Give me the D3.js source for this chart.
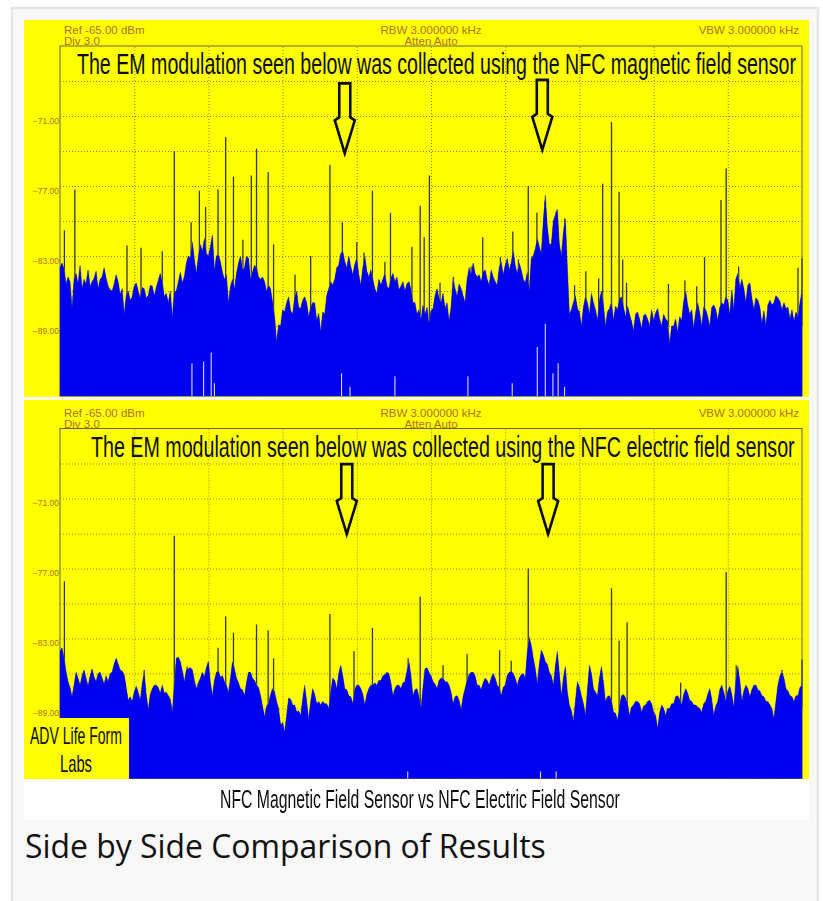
<!DOCTYPE html>
<html><head><meta charset="utf-8">
<style>
html,body{margin:0;padding:0;background:#fff;width:823px;height:901px;overflow:hidden}
svg{display:block}
.chart{filter:blur(0.3px)}
</style>
<script src="https://cdn.jsdelivr.net/npm/d3@7"></script>
</head><body>
<script>
const magneticEnvelope = [-84,-84.1,-84.8,-87.5,-84.5,-83.8,-85,-84.2,-85.2,-84.3,-85,-84,-85.6,-86,-84.6,-86.3,-88,-86,-86.5,-85.3,-86.6,-85.8,-86.4,-85.6,-85.7,-84.5,-86.5,-87,-88.2,-86,-84.4,-84.8,-83,-81.8,-84.5,-82,-81.5,-83,-81.2,-83,-83.5,-85,-87,-85,-84.5,-83,-84,-83.2,-84.4,-84,-85,-85.2,-85.5,-87,-90.3,-89,-87.8,-86.5,-88,-86,-87.5,-86.5,-88.2,-87,-88.5,-89.5,-88,-85.8,-85.5,-84,-82.8,-83.5,-83,-84.6,-83.2,-85.5,-83,-84.8,-85,-86.2,-85.5,-84.5,-85.8,-84.5,-84.8,-85.6,-86,-85.2,-87,-88,
-88.5,-88,-88.8,-87.5,-85.8,-87,-87.5,-88.6,-85,-86.5,-85.8,-87,-84,-83.6,-84.8,-85.2,-84.2,-85.5,-84.8,-85.5,-83.5,-83.8,-84.2,-82.5,-84.5,-84.2,-85.3,-86,-83,-81.5,-82.8,-77.8,-82,-80,-79,-83,-79.8,-88,-87,-87.5,-89,-86.5,-88,-87,-88.5,-86,-89,-87.5,-88.5,-87.6,-86.5,-88.2,-88,-89.4,-87.8,-89.2,-88,-89,-88.5,-87.5,-89,-88.4,-90.5,-89,-89.5,-88.5,-86,-88,-89.2,-87,-89,-87.6,-89,-87.2,-88.5,-87,-86.5,-88,-87.6,-84.5,-85,-87,-85.3,-87.6,-86.8,-88.8,-89,-86.8,-87,-86.6,-87.6,-87.5,-88.4,-88.6,-88.2,-86];
const magneticBetween = [-83.6,-85.4,-85.2,-85,-85.4,-85.8,-85.4,-85.6,-84.9,-85.8,-84.8,-84.9,-85.9,-85.4,-85.2,-85.8,-86.4,-86.8,-85.6,-86,-85.7,-86.6,-85.5,-86.4,-85.1,-85.2,-86.2,-86,-86.1,-85.2,-85.3,-83.6,-83.2,-83.3,-83,-82.6,-82.8,-82.2,-84.2,-82.9,-84.4,-84.6,-85.6,-85.8,-83.6,-84.2,-83,-85,-83.8,-84.8,-84.8,-86,-85.8,-88.2,-88.9,-87.6,-87,-87.7,-86.6,-87.4,-86.8,-87,-87.4,-87,-87.9,-87.8,-86.4,-85.2,-85,-83.8,-82.6,-84,-83.9,-83.7,-84.6,-84,-84.3,-84.2,-85.8,-85,-85,-85.6,-84.9,-85.2,-85.9,-85.2,-85.4,-85.9,-87,-87.6,
-87.2,-87.4,-87.7,-86.4,-86.6,-86.2,-87,-87.4,-85.8,-85.4,-86.4,-85,-84.6,-84.5,-84.6,-84.4,-85,-84.2,-85.2,-84,-84.6,-83.2,-83.6,-83.8,-83.6,-85,-84.4,-83.2,-82.4,-82.2,-80,-80.5,-82,-79.5,-82,-81,-84,-87.6,-86.4,-87.8,-87.4,-87,-86.2,-87.6,-86.8,-87.2,-87.8,-87,-87.3,-86.7,-87.4,-87.3,-88.6,-88,-88.4,-88.1,-88.4,-87.6,-87.9,-88.4,-88,-88.6,-89,-88.4,-88.2,-86.9,-87.2,-87.6,-87.8,-87.9,-87.4,-88.2,-87.4,-87.6,-87.4,-87.2,-86.8,-85.9,-85,-85.7,-85.8,-85.5,-86.6,-86.6,-87.4,-87.7,-87.2,-87.2,-86.4,-86.9,-87,-87.4,-87.6,-87.8,-87];
const magneticSpikes = [[1.1,-80.8],[3.7,-77.3],[16.7,-82.1],[20.2,-82.3],[25.5,-82.6],[28.5,-74],[32.7,-80.1],[34.75,-77.4],[36.3,-78.8],[39.4,-77.3],[41.3,-72.8],[43.25,-76.2],[45.6,-81.6],[47.7,-76.1],[49,-73.8],[51.9,-75.8],[53.25,-82],[58.6,-84.6],[62.5,-83],[67.3,-75.2],[70.4,-80.1],[74,-81.8],[75.8,-82.7],[77.9,-77.4],[81,-83.5],[82.4,-79.3],[87.75,-82.2],[89.8,-78.7],[90.8,-81.4],[92.1,-76.1],[94.75,-85.3],[98.1,-84.8],[102.5,-83.9],[105.4,-81.4],[109.8,-83.1],[112.9,-80.9],[114.3,-83.3],[116.75,-77],[118.9,-79.3],[120.9,-78.3],[123.7,-79.2],[125.8,-79.8],[128.3,-85.5],[131.1,-84.3],[134.3,-84.9],[135.3,-76.8],[137.5,-71.5],[139.4,-77.5],[140.3,-83.3],[141.25,-85.3],[151.7,-85.4],[155.8,-85.1],[158.75,-85.6],[160.7,-83.1],[164.8,-78.2],[166.1,-75.5],[169.2,-83.9],[184,-84],[185,-83.2]];
const magneticNotches = [[32.9,-92.2],[35.8,-92.05],[37.7,-91.3],[38.5,-93.9],[70.2,-93.05],[72.3,-94.2],[83.5,-93.3],[101.7,-93.3],[112.75,-93.9],[119,-90.8],[121,-88.8],[122.9,-93.05],[124.2,-92.2],[125.8,-94.2]];
const electricEnvelope = [-84.1,-84.7,-86.7,-88,-85.9,-87,-85.7,-87.1,-85.6,-86.7,-85.9,-86.9,-86.7,-85.9,-84.7,-85.7,-86.1,-88.3,-88.4,-87.1,-88.3,-85.9,-89.1,-87.3,-87,-87.7,-87.7,-87.9,-89.3,-84.7,-85,-86.7,-85.6,-85.7,-87.3,-86.4,-86.3,-85,-87.9,-85.9,-86.3,-86.7,-87.6,-85,-86.4,-87.3,-87.9,-85.9,-86.4,-87,-87.9,-89.7,-88.6,-87.3,-88.4,-90.4,-91,-88.1,-88.7,-89.3,-89.6,-87,-89.9,-87.3,-88.6,-88.7,-88.6,-89,-86.4,-87.3,-85.3,-87.3,-87.9,-88.6,-87,-87.3,-88.7,-87.3,-87,-87,-86.6,-86.1,-86,-87.9,-87,-87.3,-86.7,-85,-87.9,-87.3,
-89,-85.6,-85.9,-86.7,-87.3,-86.4,-86.7,-87,-88.6,-87.9,-89.1,-87.3,-86.1,-85.9,-87,-87.4,-86.4,-87,-86,-87,-87.9,-87,-85.9,-86,-87,-86.1,-86.4,-82.9,-84.7,-86.9,-84,-85,-85.9,-87,-84.1,-87.9,-85.4,-88.7,-90.1,-86.7,-87.9,-89.6,-85.3,-87.3,-87.9,-85.4,-88.4,-87.9,-89.3,-90,-87.9,-88.1,-89.6,-88.7,-88.4,-89.3,-88.7,-88.3,-89.3,-90.7,-88.7,-89.6,-89,-88.6,-87.9,-88.7,-87.3,-88.3,-88.7,-88.9,-89.3,-88.4,-87.3,-89.6,-88.4,-87,-88.4,-87.1,-88.9,-85.4,-88.4,-87,-88,-87,-87.4,-87.9,-88.4,-88.7,-89.9,-87,-85.9,-87.3,-87.9,-88.4,-87.9,-87];
const electricBetween = [-83.8,-85.8,-87.2,-87,-86.4,-86.2,-86.4,-86.2,-86.3,-86,-86.4,-86.2,-86,-85.2,-85.2,-85.8,-87.2,-88,-87.6,-87.6,-86.9,-87.8,-87.8,-87,-87.2,-87,-87.6,-88.2,-87,-84.6,-85.8,-85.7,-85.5,-86.6,-86.8,-85.9,-85.5,-86.8,-86.6,-85.8,-86.2,-87,-86.4,-85.6,-86.8,-87.4,-86.8,-85.9,-86.6,-87.2,-88.8,-88.8,-87.8,-87.6,-89,-90.2,-89.6,-88.2,-88.7,-89.2,-88.2,-88.4,-88.4,-87.8,-88.4,-88.4,-88.6,-87.6,-86.6,-86,-86.2,-87.4,-88,-87.4,-87,-87.8,-87.8,-87,-86.8,-86.6,-86.2,-85.9,-86.8,-87.3,-87,-86.8,-85.8,-86.2,-87.4,-88,
-87.2,-85.5,-86.2,-86.9,-86.6,-86.4,-86.7,-87.6,-88,-88.3,-88,-86.6,-85.9,-86.2,-87,-86.8,-86.6,-86.4,-86.4,-87.2,-87.2,-86.2,-85.8,-86.4,-86.4,-86,-84.2,-83.6,-85.6,-85.2,-84.4,-85.2,-86.2,-85.4,-86,-86.4,-87.6,-89.2,-88.4,-87.2,-88.6,-87.4,-86,-87.6,-86.4,-86.8,-88,-88.4,-89.4,-88.8,-87.8,-88.6,-88.9,-88.4,-88.6,-88.8,-88.4,-88.6,-89.6,-89.4,-89,-89,-88.6,-88,-88.2,-87.8,-87.7,-88.4,-88.7,-89,-88.6,-87.8,-88.2,-88.8,-87.4,-87.6,-87.5,-87.8,-86.6,-86.6,-87.5,-87.3,-87.4,-87,-87.5,-88,-88.4,-89,-88.4,-86.2,-86.4,-87.5,-88,-87.9,-87.2];
const electricSpikes = [[1.1,-78.1],[21,-85.7],[28.5,-74.2],[31.7,-85.4],[37,-85],[39.4,-83.8],[41.3,-81.1],[43.25,-82.5],[49,-81.8],[51.9,-82.3],[53.25,-84.7],[67.3,-80.9],[73.3,-84.1],[77.9,-82.1],[86.8,-84.7],[89.8,-79.4],[95.5,-85.3],[101.5,-84.3],[109.6,-84],[112.5,-84.9],[116.75,-77],[137.5,-78.7],[139.4,-83.2],[141.4,-81.6],[154.75,-86.8],[166.1,-77.3],[168.6,-85.3],[180,-85.7],[185,-84.8]];
const electricNotches = [[86.7,-94.4],[119.8,-94.4],[123.7,-94.4]];
const yTickValues = [-71,-77,-83,-89];
const yGridValues = [-68,-71,-74,-77,-80,-83,-86,-89,-92];
const xGridValues = [18.5,37,55.5,74,92.5,111,129.5,148,166.5];
const magneticArrows = [[71,-74.2],[120.25,-73.9]];
const electricArrows = [[71.5,-74.05],[121.7,-74.05]];
const magneticNote = "The EM modulation seen below was collected using the NFC magnetic field sensor";
const electricNote = "The EM modulation seen below was collected using the NFC electric field sensor";

const W = 823, H = 901;
const svg = d3.select("body").append("svg").attr("width",W).attr("height",H);
svg.append("rect").attr("width",W).attr("height",H).attr("fill","#fff");
svg.append("rect").attr("x",12).attr("y",8).attr("width",806).attr("height",H).attr("fill","#f8f8f8").attr("stroke","#e6e6e6").attr("stroke-width",2.5);
svg.append("rect").attr("x",24).attr("y",778).attr("width",785).attr("height",42).attr("fill","#fff");

const root = svg.append("g").attr("class","chart");
const LAB = "#b0701c", SANS = "'Liberation Sans',Arial,sans-serif";

// condensed poster lettering: real text squeezed horizontally to the reference width
function squeezed(parent,t,px,py,len,fs){
  const el = parent.append("text").text(t).attr("fill","#0c0c0c").attr("font-family",SANS).attr("font-size",fs);
  const natural = el.node().getComputedTextLength();
  el.attr("transform",`translate(${px},${py}) scale(${len/natural},1)`);
  return el;
}

function drawPanel(o){
  const g = root.append("g");
  g.append("rect").attr("x",24).attr("y",o.yellowTop).attr("width",785).attr("height",o.yellowH).attr("fill","#ffff00");
  const x = d3.scaleLinear().domain([0,185]).range([60,802]);
  const y = d3.scaleLinear().domain([-65,-95]).range([o.top,o.top+350]);

  const gy = g.append("g").attr("transform","translate(60,0)")
    .call(d3.axisLeft(y).tickValues(yGridValues).tickSize(-742).tickFormat(""));
  gy.select(".domain").remove();
  gy.selectAll("line").attr("stroke","#85853a").attr("stroke-width",1).attr("stroke-dasharray","1 2");
  const gx = g.append("g").attr("transform",`translate(0,${o.top+350})`)
    .call(d3.axisBottom(x).tickValues(xGridValues).tickSize(-350).tickFormat(""));
  gx.select(".domain").remove();
  gx.selectAll("line").attr("stroke","#85853a").attr("stroke-width",1).attr("stroke-dasharray","1 2");

  g.append("rect").attr("x",x(0)).attr("y",y(-65)).attr("width",x(185)-x(0)).attr("height",y(-95)-y(-65))
    .attr("fill","none").attr("stroke","#66664a").attr("stroke-width",1);

  g.selectAll(".spike").data(o.spikes).join("line").attr("class","spike")
    .attr("x1",d=>x(d[0])).attr("x2",d=>x(d[0]))
    .attr("y1",d=>y(d[1])).attr("y2",y(-89))
    .attr("stroke","#35352f").attr("stroke-width",1.3);

  const trace = o.envelope.flatMap((v,i)=> i<o.between.length ? [[i,v],[i+0.5,o.between[i]]] : [[i,v]]);
  const area = d3.area().x(d=>x(d[0])).y0(y(-95)).y1(d=>y(d[1]));
  g.append("path").datum(trace).attr("d",area)
    .attr("fill","#0000f0").attr("stroke","#77776a").attr("stroke-width",0.8);
  g.append("path").datum(trace).attr("d",area).attr("fill","#0000f0");

  g.selectAll(".notch").data(o.notches).join("line").attr("class","notch")
    .attr("x1",d=>x(d[0])).attr("x2",d=>x(d[0]))
    .attr("y1",d=>y(d[1])).attr("y2",y(-95))
    .attr("stroke","#d8d8ee").attr("stroke-width",1.1);

  const ya = g.append("g").attr("transform","translate(59,0)")
    .call(d3.axisLeft(y).tickValues(yTickValues).tickSize(0).tickPadding(0).tickFormat(d3.format(".2f")));
  ya.select(".domain").remove();
  ya.selectAll("text").attr("fill",LAB).attr("font-family",SANS).attr("font-size",8.5).attr("dy","0.85em");

  const hdr = (t,px,py,anchor)=>g.append("text").text(t).attr("x",px).attr("y",py)
    .attr("text-anchor",anchor).attr("fill",LAB).attr("font-family",SANS).attr("font-size",11.5);
  hdr("Ref -65.00 dBm",64,o.top-12,"start");
  hdr("Div 3.0",64,o.top-1,"start");
  hdr("RBW 3.000000 kHz",431,o.top-12,"middle");
  hdr("Atten Auto",431,o.top-1,"middle");
  hdr("VBW 3.000000 kHz",799,o.top-12,"end");

  squeezed(g,o.note,o.noteX,o.top+28,o.noteLen,29);

  g.selectAll(".arrow").data(o.arrows).join("path").attr("class","arrow")
    .attr("d",d=>{
      const ax=x(d[0]), tip=y(d[1]);
      const p=d3.path();
      p.moveTo(ax,tip);
      p.lineTo(ax-10,tip-33);p.lineTo(ax-5.5,tip-36);p.lineTo(ax-5.5,tip-70);
      p.lineTo(ax+5.5,tip-70);p.lineTo(ax+5.5,tip-36);p.lineTo(ax+10,tip-33);
      p.closePath();
      return p.toString();
    })
    .attr("fill","none").attr("stroke","#0b0b0b").attr("stroke-width",2.6);
}

drawPanel({yellowTop:20,yellowH:377,top:46,envelope:magneticEnvelope,between:magneticBetween,spikes:magneticSpikes,notches:magneticNotches,
  arrows:magneticArrows,note:magneticNote,noteX:77,noteLen:719});
drawPanel({yellowTop:400,yellowH:379,top:428.5,envelope:electricEnvelope,between:electricBetween,spikes:electricSpikes,notches:electricNotches,
  arrows:electricArrows,note:electricNote,noteX:91,noteLen:704});

root.append("rect").attr("x",24).attr("y",718).attr("width",105).attr("height",61).attr("fill","#ffff00");
squeezed(root,"ADV Life Form",30,744,92,23);
squeezed(root,"Labs",60,772,32,23);
squeezed(root,"NFC Magnetic Field Sensor vs NFC Electric Field Sensor",220,808,400,25);

svg.append("text").text("Side by Side Comparison of Results").attr("x",25).attr("y",858)
  .attr("fill","#111").attr("font-family","'Open Sans',sans-serif").attr("font-size",31.9);
</script>
</body></html>
